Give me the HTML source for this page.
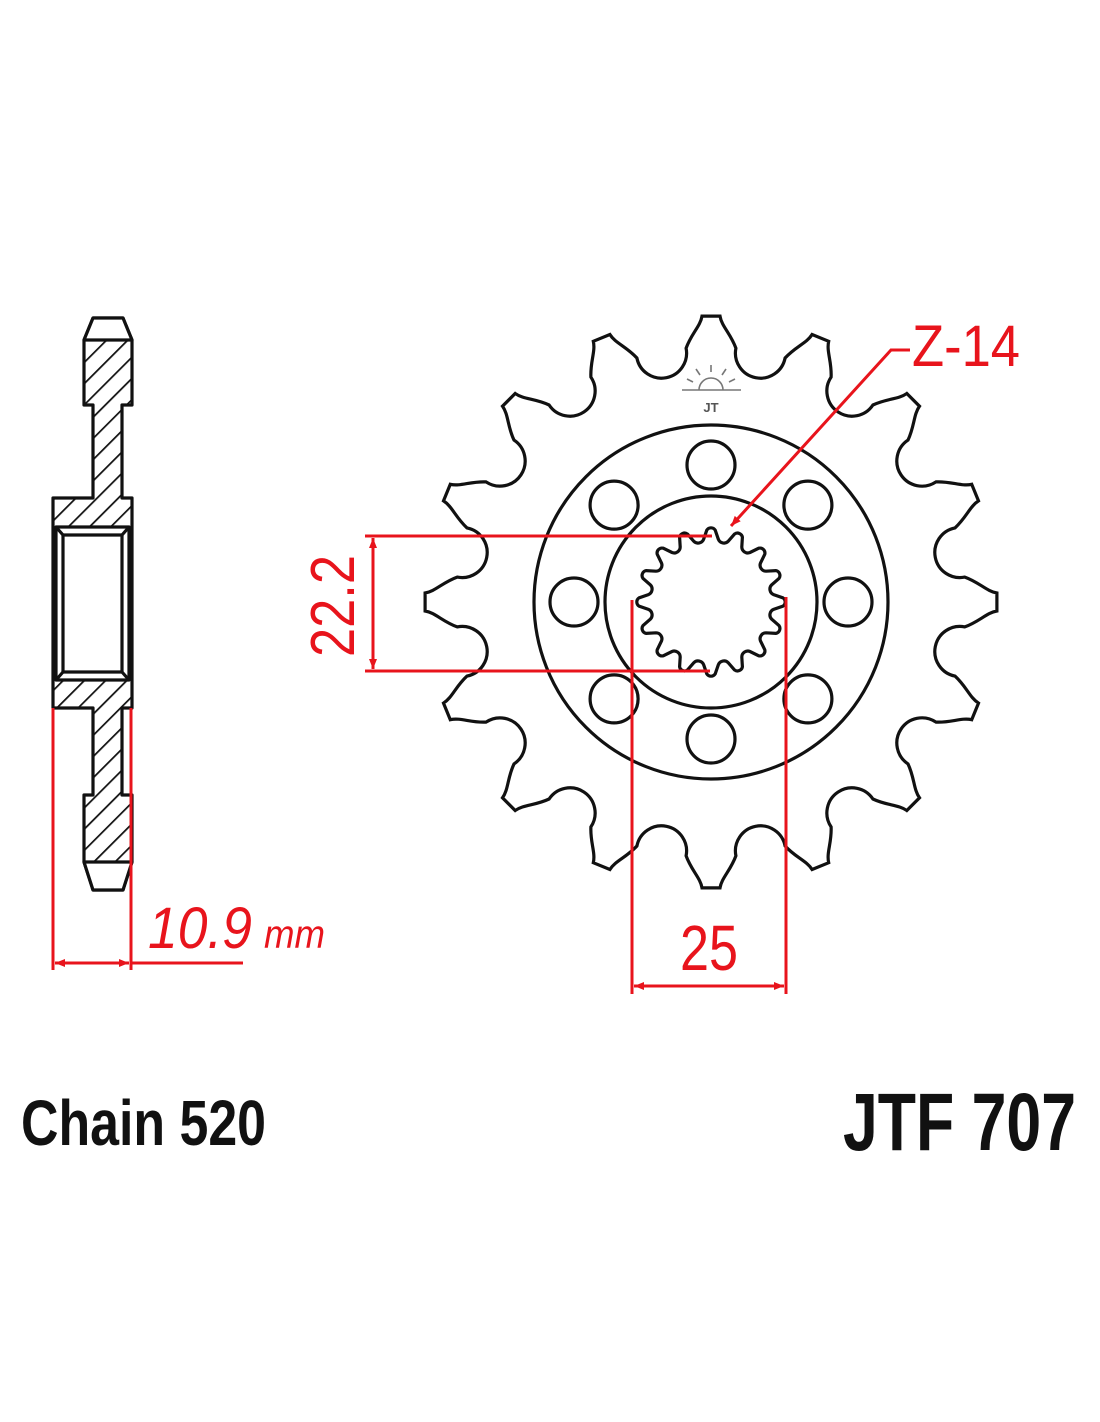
<!DOCTYPE html>
<html><head><meta charset="utf-8"><style>
html,body{margin:0;padding:0;background:#fff;}
svg{display:block;}
</style></head><body>
<svg id="s" width="1100" height="1422" viewBox="0 0 1100 1422" xmlns="http://www.w3.org/2000/svg">
<defs>
<pattern id="h" patternUnits="userSpaceOnUse" width="15" height="15" patternTransform="rotate(45)">
<rect width="15" height="15" fill="#fff"/>
<line x1="0" y1="0" x2="0" y2="15" stroke="#111" stroke-width="3.5"/>
</pattern>
<marker id="a" viewBox="0 0 10 10" refX="10" refY="5" markerWidth="18" markerHeight="10" markerUnits="userSpaceOnUse" orient="auto-start-reverse">
<path d="M0,1 L10,5 L0,9 z" fill="#e8141c"/>
</marker>
</defs>
<rect width="1100" height="1422" fill="#fff"/>

<!-- side profile -->
<g stroke="#111" stroke-width="3.2" stroke-linejoin="round">
<path d="M93,318 L123,318 L132,340 L132,405 L122,405 L122,498 L132,498 L132,708 L122,708 L122,795 L132,795 L132,862 L123,890 L93,890 L84,862 L84,795 L93,795 L93,708 L53,708 L53,498 L93,498 L93,405 L84,405 L84,340 Z" fill="url(#h)"/>
<path d="M93,318 L123,318 L132,340 L84,340 Z" fill="#fff"/>
<path d="M84,862 L132,862 L123,890 L93,890 Z" fill="#fff"/>
<rect x="56" y="527" width="73" height="153" fill="#fff"/>
<rect x="63" y="535" width="59" height="137" fill="#fff"/>
<line x1="56" y1="527" x2="63" y2="535"/><line x1="129" y1="527" x2="122" y2="535"/>
<line x1="56" y1="680" x2="63" y2="672"/><line x1="129" y1="680" x2="122" y2="672"/>
</g>

<!-- sprocket -->
<g id="spr" fill="none" stroke="#111" stroke-width="3.2">
<path id="outer"/>
<circle cx="711" cy="602" r="177"/>
<circle cx="711" cy="602" r="106"/>
<path id="spline"/>
<g id="holes"></g>
</g>
<!-- logo -->
<g stroke="#777" stroke-width="1.6" fill="none">
<path d="M699,390 A12,12 0 0 1 723,390"/>
<line x1="682" y1="390" x2="741" y2="390"/>
<line x1="711" y1="372" x2="711" y2="365"/>
<line x1="700" y1="375" x2="696" y2="369"/>
<line x1="722" y1="375" x2="726" y2="369"/>
<line x1="693" y1="382" x2="687" y2="379"/>
<line x1="729" y1="382" x2="735" y2="379"/>
</g>
<text x="711" y="412" font-family="Liberation Sans, sans-serif" font-size="13" font-weight="bold" fill="#555" text-anchor="middle">JT</text>

<!-- red dims -->
<g stroke="#e8141c" stroke-width="3" fill="none">
<line x1="365" y1="536" x2="712" y2="536"/>
<line x1="365" y1="671" x2="710" y2="671"/>
<line x1="373" y1="538" x2="373" y2="669" marker-start="url(#a)" marker-end="url(#a)"/>
<line x1="632" y1="600" x2="632" y2="994"/>
<line x1="786" y1="597" x2="786" y2="994"/>
<line x1="634" y1="986" x2="784" y2="986" marker-start="url(#a)" marker-end="url(#a)"/>
<line x1="53" y1="708" x2="53" y2="970"/>
<line x1="131" y1="708" x2="131" y2="970"/>
<line x1="55" y1="963" x2="129" y2="963" marker-start="url(#a)" marker-end="url(#a)"/>
<line x1="131" y1="963" x2="243" y2="963"/>
<polyline points="910,350 891,350 731,526" marker-end="url(#a)"/>
</g>
<g fill="#e8141c" font-family="Liberation Sans, sans-serif">
<text x="148" y="948" font-size="58" font-style="italic" textLength="104" lengthAdjust="spacingAndGlyphs">10.9</text>
<text x="264" y="948" font-size="40" font-style="italic" textLength="61" lengthAdjust="spacingAndGlyphs">mm</text>
<text x="680" y="970" font-size="64" textLength="58" lengthAdjust="spacingAndGlyphs">25</text>
<text x="912" y="366" font-size="58" textLength="108" lengthAdjust="spacingAndGlyphs">Z-14</text>
<text transform="translate(354,657) rotate(-90)" x="0" y="0" font-size="62" textLength="102" lengthAdjust="spacingAndGlyphs">22.2</text>
</g>

<g fill="#111" font-family="Liberation Sans, sans-serif" font-weight="bold">
<text x="21" y="1145" font-size="64" textLength="245" lengthAdjust="spacingAndGlyphs">Chain 520</text>
<text x="843" y="1150" font-size="82" textLength="233" lengthAdjust="spacingAndGlyphs">JTF 707</text>
</g>
</svg>
<script>
(function(){
var cx=711,cy=602,N=16,Rt=286,Rf=255,rv=24;
function P(r,a){a=a*Math.PI/180;return [(cx+r*Math.cos(a)).toFixed(1),(cy+r*Math.sin(a)).toFixed(1)];}
var d="",st=360/N;
for(var k=0;k<N;k++){
 var t=-90+k*st;
 var p1=P(Rt,t-1.8),p2=P(Rt,t+1.8),p3=P(Rf,t+5.6),p4=P(Rf,t+st-5.6);
 if(k==0){var p0=P(Rf,t-5.6);d+="M"+p0+" ";}
 d+="C"+P(Rf+14,t-4.2)+" "+P(Rt-10,t-2.2)+" "+p1+" L"+p2+" C"+P(Rt-10,t+2.2)+" "+P(Rf+14,t+4.2)+" "+p3+" A"+rv+" "+rv+" 0 0 0 "+p4+" ";
}
d+="Z";
document.getElementById("outer").setAttribute("d",d);
var M=16,Ro=72,Ri=63,s2=360/M,ds="";
for(var k=0;k<M;k++){
 var t=-90+k*s2;
 var a=P(Ri,t-s2*0.3),b=P(Ro,t-s2*0.15),c=P(Ro,t+s2*0.15),e=P(Ri,t+s2*0.3),f=P(Ri,t+s2*0.7);
 if(k==0)ds+="M"+a+" ";
 ds+="L"+b+" A5 5 0 0 1 "+c+" L"+e+" A6 6 0 0 0 "+f+" ";
}
ds+="Z";
document.getElementById("spline").setAttribute("d",ds);
var g=document.getElementById("holes"),h="";
for(var k=0;k<8;k++){var q=P(137,-90+k*45);h+='<circle cx="'+q[0]+'" cy="'+q[1]+'" r="24"/>';}
g.innerHTML=h;
})();
</script>
</body></html>
